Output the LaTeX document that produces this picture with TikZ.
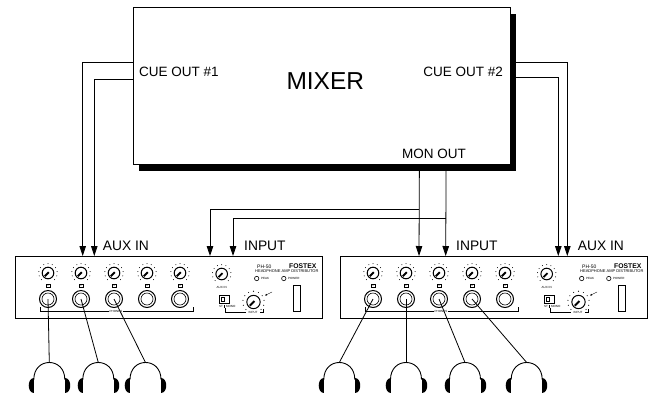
\documentclass[tikz,border=0pt]{standalone}
\usepackage{fontspec}
\setmainfont{Liberation Sans}
\usetikzlibrary{arrows.meta,shadows}
\tikzset{
  conn/.style={line width=0.8pt},
  arr/.style={conn, -{Triangle[length=10pt,width=6.5pt]}},
  lbl/.style={font=\fontsize{13.8}{15}\selectfont, inner sep=0pt},
  mlbl/.style={font=\fontsize{13.5}{15}\selectfont, inner sep=0pt},
  tinytxt/.style={font=\fontsize{3}{3.5}\selectfont, inner sep=0.3pt},
  knob/.pic={
    \draw[line width=1pt, fill=white] (0,0) circle[radius=5.8pt];
    \draw[line width=1.8pt] (0.8,-0.8) -- (-3.2,3.2);
    \foreach \a in {-45,-18,...,225} \fill (\a:9.3pt) circle[radius=0.5pt];
  },
  jack/.pic={
    \draw[line width=1pt, fill=white] (0,0) circle[radius=8.5pt];
    \draw[line width=0.6pt] (0,0) circle[radius=6pt];
  },
  headph/.pic={
    \coordinate (-top) at (0,0);
    \draw[line width=0.9pt] (-15.5,17) .. controls (-15.5,-5.7) and (15.5,-5.7) .. (15.5,17);
    \fill (-15.5,15.5) -- (-15.5,30.5) .. controls (-22.5,30.5) and (-22.5,15.5) .. cycle;
    \fill (15.5,15.5) -- (15.5,30.5) .. controls (22.5,30.5) and (22.5,15.5) .. cycle;
  },
  phdev/.pic={
    \node[draw, line width=1pt, minimum width=307pt, minimum height=62pt, anchor=north west, inner sep=0pt] (-box) at (0,0) {};
    \foreach \i [evaluate=\i as \cx using 33*\i] in {1,...,5} {
      \pic at (\cx,17) {knob};
      \draw[line width=0.4pt] (\cx-1.8,27.7) rectangle (\cx+1.8,31.3);
      \node[font=\fontsize{2.5}{3}\selectfont, inner sep=0pt] at (\cx,29.5) {\i};
      \pic at (\cx,43) {jack};
      \coordinate (-j\i) at (\cx,43);
    }
    % PHONES bracket
    \draw[line width=0.5pt] (25,51) -- (25,55) -- (94,55);
    \draw[line width=0.5pt] (108,55) -- (178,55) -- (178,51);
    \node[tinytxt] at (101,55) {PHONES};
    % aux in knob
    \pic at (206.7,18) {knob};
    \node[tinytxt] at (206.7,31.5) {AUX IN};
    % branding
    \node[font=\fontsize{5}{6}\selectfont, inner sep=0pt, anchor=west] at (242,10.3) {PH-50};
    \node[font=\bfseries\fontsize{6.8}{7}\selectfont, inner sep=0pt, anchor=west] at (274,10.3) {FOSTEX};
    \node[font=\fontsize{4}{5}\selectfont, inner sep=0pt, anchor=west] at (240,15.5) {HEADPHONE AMP DISTRIBUTOR};
    % LEDs
    \draw[line width=0.6pt] (241.7,22.5) circle[radius=2.2pt];
    \node[tinytxt, anchor=west] at (245.5,22.5) {PEAK};
    \draw[line width=0.6pt] (268.8,22.5) circle[radius=2.2pt];
    \node[tinytxt, anchor=west] at (272.6,22.5) {POWER};
    % power switch
    \draw[line width=1pt] (278,29.5) rectangle (285,55);
    % ST/MONO switch
    \draw[line width=0.8pt] (204.5,39.5) rectangle (214,47);
    \draw[line width=0.5pt] (206.3,40.8) rectangle (209,45.7);
    \node[tinytxt, anchor=west] at (203.5,50.5) {ST};
    \node[tinytxt, anchor=west] at (210.5,50.5) {MONO};
    \draw[line width=0.4pt] (209.5,49) -- (209.5,52);
    % input knob
    \pic[scale=1.15] at (238.5,46) {knob};
    \draw[line width=0.4pt, -{Triangle[length=2pt,width=1.8pt]}] (257,36) -- (250,39.5);
    % INPUT bracket
    \draw[line width=0.5pt] (210,52) -- (210,56.5) -- (231,56.5);
    \draw[line width=0.5pt] (245,56.5) -- (248,56.5) -- (248,53);
    \node[tinytxt] at (238,56.5) {INPUT};
  }
}
\begin{document}
\begin{tikzpicture}[x=1pt,y=-1pt]
\useasboundingbox (0,0) rectangle (655,397);

% mixer
\node[draw, line width=0.8pt, fill=white, minimum width=377pt, minimum height=157pt,
      anchor=north west, inner sep=0pt,
      drop shadow={shadow xshift=6pt, shadow yshift=-7pt, opacity=1, fill=black}] (mixer) at (133,7) {};
\node[font=\fontsize{24.5}{26}\selectfont, inner sep=0pt, anchor=base] (mixtxt) at (325.3,89.3) {MIXER};
\node[mlbl, anchor=base west] (cue1) at (139,76) {CUE OUT \#1};
\node[mlbl, anchor=base east] (cue2) at (503,76) {CUE OUT \#2};
\node[mlbl, anchor=base west] (monout) at (402,158.3) {MON OUT};

% devices
\pic (L) at (15,256) {phdev};
\pic (R) at (340,256) {phdev};

% arrow targets on device tops
\coordinate (aL1) at (82.7,256);
\coordinate (aL2) at (94.3,256);
\coordinate (aL3) at (210,256);
\coordinate (aL4) at (233,256);
\coordinate (aR1) at (419,256);
\coordinate (aR2) at (445.7,256);
\coordinate (aR3) at (558.3,256);
\coordinate (aR4) at (567.3,256);

% cue connectors
\draw[arr] ([yshift=23.5pt]mixer.west) -| (aL1);
\draw[arr] ([yshift=6.5pt]mixer.west) -| (aL2);
\draw[arr] ([yshift=23.5pt]mixer.east) -| (aR4);
\draw[arr] ([yshift=8.5pt]mixer.east) -| (aR3);

% mon out connectors
\coordinate (m1) at ([xshift=97.5pt]mixer.south);
\coordinate (m2) at ([xshift=124.2pt]mixer.south);
\draw[arr] (m1) -- (aR1);
\draw[arr] (m2) -- (aR2);
\coordinate (t1) at (419,209);
\coordinate (t2) at (445.7,218);
\draw[arr] (t1) -| (aL3);
\draw[arr] (t2) -| (aL4);

% labels
\node[lbl, anchor=base west] (auxL) at (102.7,250) {AUX IN};
\node[lbl, anchor=base west] (inL) at (244,250) {INPUT};
\node[lbl, anchor=base west] (inR) at (456,250) {INPUT};
\node[lbl, anchor=base west] (auxR) at (577.7,250) {AUX IN};

% headphones
\pic (H1) at (49.3,362.5) {headph};
\pic (H2) at (98.3,362.5) {headph};
\pic (H3) at (145.5,362.5) {headph};
\pic (H4) at (339.3,362.5) {headph};
\pic (H5) at (406,362.5) {headph};
\pic (H6) at (465,362.5) {headph};
\pic (H7) at (526.7,362.5) {headph};

% phone cords
\draw[conn] (L-j1) -- (H1-top);
\draw[conn] (L-j2) -- (H2-top);
\draw[conn] (L-j3) -- (H3-top);
\draw[conn] (R-j1) -- (H4-top);
\draw[conn] (R-j2) -- (H5-top);
\draw[conn] (R-j3) -- (H6-top);
\draw[conn] (R-j4) -- (H7-top);
\end{tikzpicture}
\end{document}
